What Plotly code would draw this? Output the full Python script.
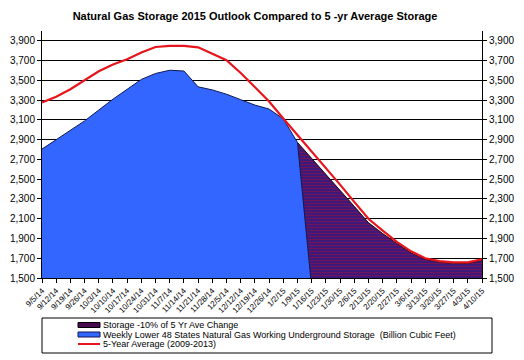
import plotly.graph_objects as go

dates = ['9/5/14', '9/12/14', '9/19/14', '9/26/14', '10/3/14', '10/10/14', '10/17/14', '10/24/14',
         '10/31/14', '11/7/14', '11/14/14', '11/21/14', '11/28/14', '12/5/14', '12/12/14', '12/19/14',
         '12/26/14', '1/2/15', '1/9/15', '1/16/15', '1/23/15', '1/30/15', '2/6/15', '2/13/15',
         '2/20/15', '2/27/15', '3/6/15', '3/13/15', '3/20/15', '3/27/15', '4/3/15', '4/10/15']

storage_weekly = [2805, 2900, 2990, 3090, 3200, 3310, 3410, 3510, 3570, 3603, 3595, 3435, 3404,
                  3360, 3305, 3250, 3210, 3110, 2872, 1400] + [None] * 12

storage_minus10 = [None] * 18 + [2872, 2712, 2550, 2388, 2225, 2060, 1950, 1850, 1755, 1690,
                                 1660, 1648, 1648, 1678]

five_year_avg = [3277, 3335, 3410, 3500, 3592, 3662, 3714, 3783, 3838, 3850, 3850, 3835, 3770,
                 3705, 3575, 3430, 3287, 3115, 2950, 2785, 2612, 2445, 2270, 2100, 1980, 1865,
                 1770, 1700, 1670, 1658, 1658, 1690]

y_ticks = list(range(1500, 4000, 200))
y_ticktext = [f"{v:,}" for v in y_ticks]

legend_labels = ['Storage -10% of 5 Yr Ave Change',
                 'Weekly Lower 48 States Natural Gas Working Underground Storage  (Billion Cubic Feet)',
                 '5-Year Average (2009-2013)']

W, H = 524, 360
L, R, T, B = 42, 42, 31, 82
PW, PH = W - L - R, H - T - B


def px_x(x):
    return (x - L) / PW


def px_y(y):
    return (H - B - y) / PH


FONT = "Liberation Sans, Arial, sans-serif"
xs = list(range(len(dates)))

fig = go.Figure()

fig.add_trace(go.Scatter(
    x=xs, y=storage_minus10, mode='lines', fill='tozeroy',
    line=dict(color='#1a0010', width=1),
    fillcolor='#5a1060',
    fillpattern=dict(shape='-', fgcolor='#b0102a', bgcolor='#2e1a86', size=3, solidity=0.5),
    name=legend_labels[0], showlegend=False, hoverinfo='skip'))

fig.add_trace(go.Scatter(
    x=xs, y=storage_weekly, mode='lines', fill='tozeroy',
    line=dict(color='#101850', width=1),
    fillcolor='#3366ff',
    name=legend_labels[1], showlegend=False, hoverinfo='skip'))

fig.add_trace(go.Scatter(
    x=xs, y=five_year_avg, mode='lines',
    line=dict(color='#e8141c', width=2.2),
    name=legend_labels[2], showlegend=False, hoverinfo='skip'))

# invisible trace to anchor the right-hand axis
fig.add_trace(go.Scatter(
    x=xs, y=five_year_avg, mode='lines', yaxis='y2',
    line=dict(color='rgba(0,0,0,0)', width=0),
    showlegend=False, hoverinfo='skip'))

axis_common = dict(range=[1500, 4000], tickvals=y_ticks, ticktext=y_ticktext,
                   tickfont=dict(family=FONT, size=10, color='black'),
                   showline=True, linecolor='black', linewidth=1,
                   ticks='outside', ticklen=4, tickcolor='black', zeroline=False,
                   automargin=False)

fig.update_layout(
    width=W, height=H,
    margin=dict(l=L, r=R, t=T, b=B, autoexpand=False),
    paper_bgcolor='white', plot_bgcolor='white',
    showlegend=False,
    title=dict(text='<b>Natural Gas Storage 2015 Outlook Compared to 5 -yr Average Storage</b>',
               font=dict(family=FONT, size=11, color='black'),
               x=255 / W, xanchor='center', xref='container',
               y=1 - 16 / H, yanchor='middle', yref='container', automargin=False),
    xaxis=dict(range=[0, 31], tickvals=xs, ticktext=dates, tickangle=-45,
               tickfont=dict(family=FONT, size=8, color='black'),
               showline=True, linecolor='black', linewidth=1,
               ticks='outside', ticklen=4, tickcolor='black',
               showgrid=False, zeroline=False, automargin=False),
    yaxis=dict(**axis_common, showgrid=True, gridcolor='black', gridwidth=1),
    yaxis2=dict(**axis_common, overlaying='y', side='right', showgrid=False),
)

# manual legend (box, swatches, labels)
shapes = [dict(type='rect', xref='paper', yref='paper',
               x0=px_x(42), x1=px_x(492), y0=px_y(318), y1=px_y(353),
               line=dict(color='black', width=1), fillcolor='white', layer='above')]
rows = [325, 334.5, 344]
shapes.append(dict(type='rect', xref='paper', yref='paper',
                   x0=px_x(78), x1=px_x(100), y0=px_y(rows[0] - 2.5), y1=px_y(rows[0] + 2.5),
                   line=dict(color='black', width=1), fillcolor='#4a0a50', layer='above'))
shapes.append(dict(type='rect', xref='paper', yref='paper',
                   x0=px_x(78), x1=px_x(100), y0=px_y(rows[1] - 2.5), y1=px_y(rows[1] + 2.5),
                   line=dict(color='#101850', width=1), fillcolor='#3366ff', layer='above'))
shapes.append(dict(type='line', xref='paper', yref='paper',
                   x0=px_x(78), x1=px_x(100), y0=px_y(rows[2]), y1=px_y(rows[2]),
                   line=dict(color='#e8141c', width=2), layer='above'))
fig.update_layout(shapes=shapes)

for lbl, ry in zip(legend_labels, rows):
    fig.add_annotation(text=lbl, xref='paper', yref='paper', x=px_x(101), y=px_y(ry),
                       xanchor='left', yanchor='middle', showarrow=False,
                       font=dict(family=FONT, size=9, color='black'))

fig.write_html("out.html",
               config={'displayModeBar': False, 'staticPlot': True},
               post_script="document.body.style.margin='0';document.body.style.overflow='hidden';")
